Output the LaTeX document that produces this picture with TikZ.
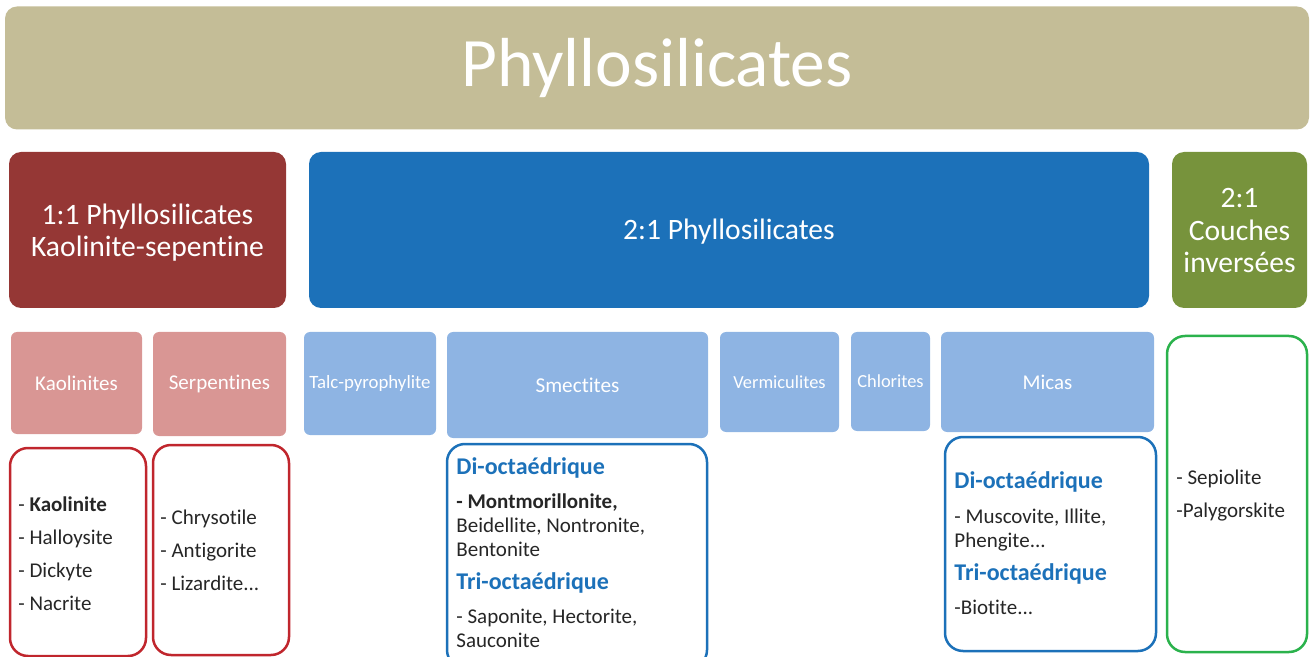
\documentclass[tikz,border=0pt]{standalone}
\usepackage{fontspec}
\setmainfont{Carlito}[Ligatures=NoCommon]
\definecolor{tan}{HTML}{C4BD97}
\definecolor{darkred}{HTML}{953735}
\definecolor{midblue}{HTML}{1C71B9}
\definecolor{olive}{HTML}{77933C}
\definecolor{pink}{HTML}{D99694}
\definecolor{lightblue}{HTML}{8EB4E3}
\definecolor{linered}{HTML}{C0262D}
\definecolor{linegreen}{HTML}{2BB24C}
\newcommand{\octa}[1]{{\color{midblue}\bfseries\fontsize{12}{12}\selectfont #1}}
\newcommand{\headlines}[2]{\raisebox{#1}[0pt][0pt]{\begin{tabular}{@{}c@{}}#2\end{tabular}}}
\begin{document}
\begin{tikzpicture}[
   x=0.5pt,y=-0.5pt,
   head/.style={rounded corners=6pt,text=white,align=center,inner sep=0pt,
     font=\fontsize{14.8}{16.3}\selectfont},
   family/.style={rounded corners=3pt,text=white,align=center,inner sep=0pt,
     font=\fontsize{9.2}{11}\selectfont},
   listbox/.style={draw,line width=1.25pt,rounded corners=9pt},
   listtext/.style={anchor=north west,inner sep=0pt,align=left,text=black!85,
     font=\fontsize{10.5}{16.5}\selectfont}
 ]
  \useasboundingbox (0,0) rectangle (1311,657);

  % top
  \node[head,fill=tan,minimum width=652pt,minimum height=61.5pt,
    font=\fontsize{34.7}{34.7}\selectfont] (top) at (657,68) {Phyllosilicates};

  % groups
  \node[head,fill=darkred,minimum width=138.5pt,minimum height=78pt] (g11) at (147.5,230)
    {\headlines{-5.6pt}{1:1 Phyllosilicates\\Kaolinite-sepentine}};
  \node[head,fill=midblue,minimum width=420pt,minimum height=78pt] (g21) at (729,230)
    {\raisebox{-5pt}[0pt][0pt]{2:1 Phyllosilicates}};
  \node[head,fill=olive,minimum width=67.5pt,minimum height=78pt] (ginv) at (1239.5,230)
    {\headlines{-5.4pt}{2:1\\Couches\\inversées}};

  % families
  \node[family,fill=pink,minimum width=65.5pt,minimum height=51pt,
    font=\fontsize{10.5}{12}\selectfont] (kao) at (76.5,383) {Kaolinites};
  \node[family,fill=pink,minimum width=66.5pt,minimum height=52pt,
    font=\fontsize{10.5}{12}\selectfont] (serp) at (219.5,384) {Serpentines};
  \node[family,fill=lightblue,minimum width=66pt,minimum height=51.5pt,
    font=\fontsize{9.4}{11}\selectfont] (talc) at (370,383.5) {Talc-pyrophylite};
  \node[family,fill=lightblue,minimum width=130.5pt,minimum height=53pt,
    font=\fontsize{10.6}{12}\selectfont] (smec) at (577.5,385) {Smectites};
  \node[family,fill=lightblue,minimum width=59.5pt,minimum height=50pt] (verm) at (779.5,382)
    {Vermiculites};
  \node[family,fill=lightblue,minimum width=39.5pt,minimum height=49.5pt] (chlo) at (890.5,381.5)
    {Chlorites};
  \node[family,fill=lightblue,minimum width=106.5pt,minimum height=50pt,
    font=\fontsize{10.5}{12}\selectfont] (mica) at (1047.5,382) {Micas};

  % lists
  \node[listbox,linered,minimum width=68pt,minimum height=104pt] (kaol) at (78,552) {};
  \node[listbox,linered,minimum width=68pt,minimum height=105pt] (serpl) at (221,550) {};
  \node[listbox,midblue,minimum width=130pt,minimum height=112pt] (smecl) at (577,556) {};
  \node[listbox,midblue,minimum width=105.5pt,minimum height=107pt] (mical) at (1050.5,544) {};
  \node[listbox,linegreen,minimum width=70pt,minimum height=158pt] (invl) at (1237,494) {};

  \node[listtext] (kaot) at (18,496) {- \textbf{Kaolinite}\\- Halloysite\\- Dickyte\\- Nacrite};
  \node[listtext] (serpt) at (160,510) {- Chrysotile\\- Antigorite\\- Lizardite...};
  \node[listtext,font=\fontsize{10.5}{12}\selectfont] (smect) at (456,457)
    {\octa{Di-octaédrique}\\[5pt]
     \textbf{- Montmorillonite,}\\Beidellite, Nontronite,\\Bentonite\\[4.5pt]
     \octa{Tri-octaédrique}\\[5pt]
     - Saponite, Hectorite,\\Sauconite};
  \node[listtext,font=\fontsize{10.5}{12}\selectfont] (micat) at (954,471.5)
    {\octa{Di-octaédrique}\\[5.5pt]
     - Muscovite, Illite,\\Phengite...\\[4.5pt]
     \octa{Tri-octaédrique}\\[5pt]
     -Biotite...};
  \node[listtext] (invt) at (1176,470) {- Sepiolite\\-Palygorskite};
 \end{tikzpicture}
\end{document}
